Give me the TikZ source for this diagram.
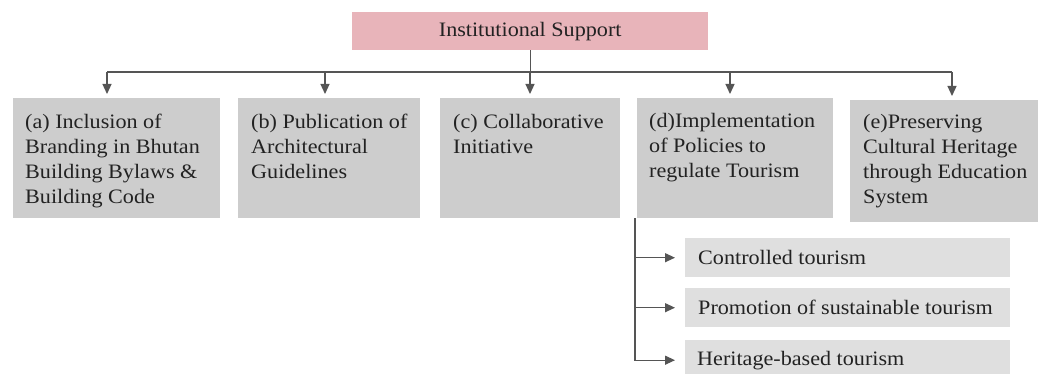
\documentclass[tikz,border=0pt]{standalone}
\usepackage{fontspec}
\setmainfont{Liberation Serif}[FakeStretch=1.08]
\usetikzlibrary{arrows.meta, positioning, calc}
\definecolor{supPink}{HTML}{E8B4BA}
\definecolor{supGray}{HTML}{CDCDCD}
\definecolor{supSub}{HTML}{DFDFDF}
\definecolor{supLine}{HTML}{555555}
\definecolor{supText}{HTML}{222222}
\tikzset{
  supfig/.style={
    x=1pt, y=-1pt,
    every node/.append style={font=\fontsize{20.5}{25}\selectfont, text=supText},
    >={Triangle[length=10pt, width=9pt]},
  },
  headbox/.style={fill=supPink, draw=none, anchor=north west, inner sep=0pt},
  pillarbox/.style={fill=supGray, draw=none, anchor=north west, inner sep=0pt},
  subbox/.style={fill=supSub, draw=none, anchor=north west, inner sep=0pt},
  boxtext/.style={anchor=north west, align=left, inner sep=0pt},
  bus/.style={draw=supLine, line width=1.2pt},
  branch/.style={bus, ->, shorten >=4pt},
}

\begin{document}
\begin{tikzpicture}[supfig]
  \clip (0,0) rectangle (1038,374);
  \fill[white] (0,0) rectangle (1038,374);
  % top node
  \node[headbox, minimum width=356pt, minimum height=38pt] (Support) at (352,12) {};
  \node at (Support.center) {Institutional Support};
  % five pillars
  \node[pillarbox, minimum width=207pt, minimum height=120pt] (BranchA) at (13,98) {};
  \node[pillarbox, minimum width=182pt, minimum height=120pt] (BranchB) at (238,98) {};
  \node[pillarbox, minimum width=180pt, minimum height=120pt] (BranchC) at (440,98) {};
  \node[pillarbox, minimum width=196pt, minimum height=120pt] (BranchD) at (637,98) {};
  \node[pillarbox, minimum width=188pt, minimum height=122pt] (BranchE) at (850,100) {};
  \node[boxtext] (TextA) at ([shift={(12,16)}]BranchA.north west) {(a) Inclusion of\\Branding in Bhutan\\Building Bylaws \&\\Building Code};
  \node[boxtext] (TextB) at ([shift={(13,16)}]BranchB.north west) {(b) Publication of\\Architectural\\Guidelines};
  \node[boxtext] (TextC) at ([shift={(13,16)}]BranchC.north west) {(c) Collaborative\\Initiative};
  \node[boxtext] (TextD) at ([shift={(12,15)}]BranchD.north west) {(d)Implementation\\of Policies to\\regulate Tourism};
  \node[boxtext] (TextE) at ([shift={(13,14)}]BranchE.north west) {(e)Preserving\\Cultural Heritage\\through Education\\System};
  % tourism policies under (d)
  \node[subbox, minimum width=325pt, minimum height=39pt] (SubA) at (685,238) {};
  \node[subbox, minimum width=325pt, minimum height=39pt] (SubB) at (685,288) {};
  \node[subbox, minimum width=325pt, minimum height=40pt] (SubC) at (685,340) {};
  \node[anchor=west, inner sep=0pt] (LabelA) at ([xshift=13pt]SubA.west) {Controlled tourism};
  \node[anchor=west, inner sep=0pt] (LabelB) at ([xshift=13pt]SubB.west) {Promotion of sustainable tourism};
  \node[anchor=west, inner sep=0pt] (LabelC) at ([xshift=12pt]SubC.west) {Heritage-based tourism};
  % connectors
  \coordinate (busA) at (107,72);
  \coordinate (busB) at (325,72);
  \coordinate (busC) at (530,72);
  \coordinate (busD) at (730,72);
  \coordinate (busE) at (952,72);
  \coordinate (tapD) at (635,218);
  \draw[bus] (Support.south) -- (Support.south |- busC);
  \draw[bus] (busA) -- (busE);
  \draw[branch] (busA) -- (busA |- BranchA.north);
  \draw[branch] (busB) -- (busB |- BranchB.north);
  \draw[branch] (busC) -- (busC |- BranchC.north);
  \draw[branch] (busD) -- (busD |- BranchD.north);
  \draw[branch] (busE) -- (busE |- BranchE.north);
  \draw[branch, shorten >=10pt] (tapD) |- (SubC.west);
  \draw[branch, shorten >=10pt] (tapD |- SubA.west) -- (SubA.west);
  \draw[branch, shorten >=10pt] (tapD |- SubB.west) -- (SubB.west);
\end{tikzpicture}
\end{document}
